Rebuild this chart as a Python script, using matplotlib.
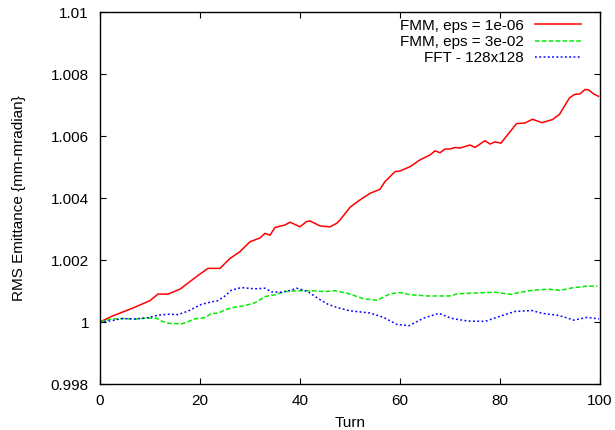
import matplotlib
matplotlib.use('Agg')
import matplotlib.pyplot as plt
from matplotlib.ticker import FuncFormatter, MultipleLocator

plt.rcParams['font.family'] = ['Liberation Sans', 'DejaVu Sans']
plt.rcParams['font.size'] = 11

# FMM, eps = 1e-06 (red, solid)
turn_fmm6 = [0, 2.3, 5, 7, 10, 11.6, 13.6, 16, 19.6, 21.6, 24, 26, 28, 30, 32, 33,
             34, 35, 37, 38, 40, 41.3, 42, 44, 46, 47.3, 48, 50, 52, 54, 56, 57, 59,
             60, 62, 64, 66, 67, 68, 69, 70, 71, 72, 74, 75, 77, 78, 79, 80.2, 83.3,
             85, 86.5, 88.4, 90.5, 91.9, 93.9, 94.9, 96, 97, 97.7, 98.7, 99.7]
emit_fmm6 = [1.0000, 1.00018, 1.00035, 1.00048, 1.00069, 1.0009, 1.0009, 1.00106,
             1.0015, 1.00173, 1.00173, 1.00205, 1.00227, 1.00259, 1.00271, 1.00286,
             1.0028, 1.00305, 1.00313, 1.00322, 1.00307, 1.00324, 1.00326, 1.0031,
             1.00307, 1.00318, 1.00329, 1.0037, 1.00394, 1.00415, 1.00428, 1.00453,
             1.00485, 1.00487, 1.00501, 1.00523, 1.00539, 1.00552, 1.00546, 1.00558,
             1.00558, 1.00563, 1.00561, 1.00571, 1.00563, 1.00585, 1.00574, 1.00581,
             1.00577, 1.0064, 1.00642, 1.00654, 1.00643, 1.00653, 1.0067, 1.00723,
             1.00734, 1.00736, 1.0075, 1.00749, 1.00736, 1.00728]

# FMM, eps = 3e-02 (green, dashed)
turn_fmm3 = [0, 2.3, 5, 7, 9, 11.3, 12.3, 13.6, 16.3, 17.6, 19, 21, 22.3, 23.6, 25,
             26.3, 29, 31, 33, 35, 37, 39.6, 42.3, 45, 47, 49.6, 52.7, 55.4, 58, 60,
             62, 65.5, 70, 71.5, 75.6, 79, 82.3, 83.7, 86.4, 89.7, 92, 94.4, 97, 99.5]
emit_fmm3 = [1.0000, 1.0001, 1.00011, 1.00009, 1.00012, 1.00012, 1.00003, 0.99996,
             0.99994, 1.00001, 1.0001, 1.00014, 1.00028, 1.00028, 1.00039, 1.00046,
             1.00053, 1.00062, 1.00082, 1.00088, 1.00098, 1.00101, 1.00101, 1.00098,
             1.00101, 1.00092, 1.00075, 1.0007, 1.00091, 1.00095, 1.00088, 1.00084,
             1.00084, 1.00091, 1.00094, 1.00096, 1.00089, 1.00095, 1.00102, 1.00106,
             1.00102, 1.0011, 1.00115, 1.00116]

# FFT - 128x128 (blue, dotted)
turn_fft = [0, 2.3, 4.3, 7, 9.6, 11.6, 13.6, 15.6, 17.6, 20.3, 22.3, 23.6, 25, 26.3,
            28.3, 31, 33, 34.3, 36.3, 38.3, 39.3, 41.6, 43.6, 45.6, 47.6, 50, 54,
            56.7, 59.4, 61.8, 64.8, 67.8, 70.2, 73.6, 77, 79.7, 83, 86.4, 88.4, 91.8,
            94.8, 97.4, 99.8]
emit_fft = [1.0000, 1.00004, 1.00011, 1.0001, 1.00014, 1.00022, 1.00025, 1.00024,
            1.00035, 1.00057, 1.00065, 1.00069, 1.00084, 1.00103, 1.00111, 1.00107,
            1.00109, 1.00097, 1.00096, 1.00103, 1.00109, 1.00098, 1.00076, 1.00057,
            1.00046, 1.00036, 1.00029, 1.00015, 0.99992, 0.99988, 1.00013, 1.00028,
            1.00012, 1.00003, 1.00002, 1.00017, 1.00034, 1.00037, 1.00028, 1.00021,
            1.00006, 1.00015, 1.0001]

fig = plt.figure(figsize=(6.15, 4.30), dpi=100)
ax = fig.add_axes([100 / 615, 1 - 384 / 430, 500 / 615, 372 / 430])

ax.plot(turn_fmm6, emit_fmm6, color='#ff0000', lw=1.1, ls='-',
        label='FMM, eps = 1e-06')
ax.plot(turn_fmm3, emit_fmm3, color='#00ee00', lw=1.1, ls=(0, (3, 1.5)),
        label='FMM, eps = 3e-02')
ax.plot(turn_fft, emit_fft, color='#0000ff', lw=1.1, ls=(0, (1.2, 1.6)),
        label='FFT - 128x128')

ax.set_xlim(0, 100)
ax.set_ylim(0.998, 1.010)
ax.xaxis.set_major_locator(MultipleLocator(20))
ax.yaxis.set_major_locator(MultipleLocator(0.002))
ax.yaxis.set_major_formatter(FuncFormatter(lambda v, p: f'{v:g}'))
ax.tick_params(direction='in', top=True, right=True, length=4.5, width=0.8,
               labelsize=11)
ax.tick_params(axis='x', pad=7)
ax.tick_params(axis='y', pad=8)
for s in ax.spines.values():
    s.set_linewidth(1.0)

ax.set_xlabel('Turn', fontsize=11, labelpad=6)
ax.set_ylabel('RMS Emittance {mm-mradian}', fontsize=11, labelpad=18)

# gnuplot-style key: labels right-aligned, samples on the right
ax.legend(loc='upper right', frameon=False, markerfirst=False,
          handlelength=3.0, handletextpad=0.75, labelspacing=0.15,
          borderpad=0, borderaxespad=0, fontsize=11,
          bbox_to_anchor=(0.962, 0.982))

fig.savefig('out.png', dpi=100)
